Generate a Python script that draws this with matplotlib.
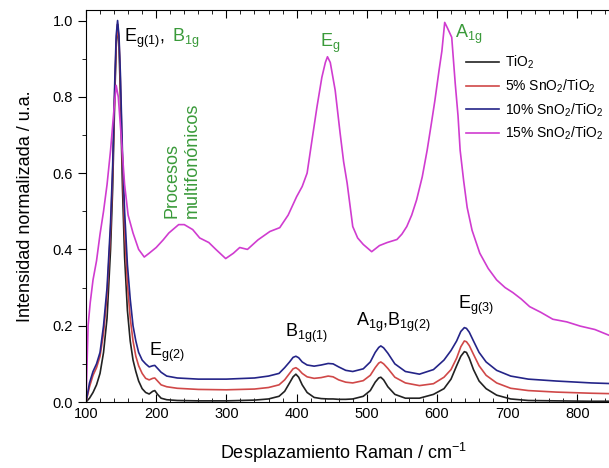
import numpy as np
import matplotlib
matplotlib.use("Agg")
import matplotlib.pyplot as plt
from matplotlib.ticker import MultipleLocator

plt.rcParams['font.family'] = ['Liberation Sans', 'DejaVu Sans']
plt.rcParams['mathtext.fontset'] = 'custom'
plt.rcParams['mathtext.rm'] = 'Liberation Sans'
plt.rcParams['mathtext.it'] = 'Liberation Sans'
plt.rcParams['mathtext.default'] = 'regular'

# Raman shift grid (cm-1) shared by the three lower spectra
shift = [100, 105, 110, 115, 120, 125, 130, 135, 138, 141,
         143, 145, 147, 149, 152, 155, 159, 163, 167, 171,
         175, 180, 185, 190, 195, 198, 202, 207, 215, 230,
         260, 300, 340, 360, 375, 383, 390, 395, 399, 403,
         408, 415, 425, 435, 445, 452, 460, 470, 480, 495,
         505, 512, 517, 520, 524, 530, 540, 555, 575, 595,
         610, 620, 628, 634, 639, 642, 646, 652, 660, 670,
         685, 705, 730, 770, 820, 870, 890]

tio2 = [0, 0.01, 0.025, 0.045, 0.075, 0.13, 0.22, 0.4, 0.56, 0.8,
        0.93, 0.99, 0.94, 0.8, 0.56, 0.38, 0.24, 0.16, 0.11, 0.08,
        0.055, 0.035, 0.025, 0.021, 0.028, 0.03, 0.02, 0.01, 0.006, 0.004,
        0.003, 0.003, 0.005, 0.008, 0.015, 0.028, 0.05, 0.066, 0.073, 0.065,
        0.045, 0.025, 0.012, 0.009, 0.008, 0.008, 0.007, 0.007, 0.008, 0.015,
        0.03, 0.052, 0.063, 0.065, 0.058, 0.04, 0.02, 0.01, 0.01, 0.02,
        0.035, 0.06, 0.095, 0.12, 0.132, 0.13, 0.115, 0.085, 0.055, 0.035,
        0.018, 0.008, 0.004, 0.003, 0.002, 0.002, 0.002]

sno2_5 = [0, 0.04, 0.07, 0.09, 0.12, 0.18, 0.28, 0.45, 0.6, 0.82,
          0.94, 0.99, 0.95, 0.84, 0.62, 0.45, 0.31, 0.22, 0.16, 0.12,
          0.095, 0.075, 0.062, 0.058, 0.062, 0.063, 0.055, 0.045, 0.04, 0.036,
          0.033, 0.032, 0.034, 0.038, 0.045, 0.058, 0.075, 0.087, 0.09, 0.085,
          0.075, 0.066, 0.062, 0.064, 0.068, 0.066, 0.058, 0.052, 0.05, 0.056,
          0.07, 0.09, 0.102, 0.105, 0.1, 0.088, 0.065, 0.05, 0.043, 0.048,
          0.065, 0.085, 0.115, 0.145, 0.16, 0.158, 0.148, 0.125, 0.095, 0.07,
          0.05, 0.036, 0.03, 0.026, 0.023, 0.021, 0.02]

sno2_10 = [0, 0.05, 0.08, 0.1, 0.13, 0.2, 0.3, 0.47, 0.62, 0.84,
           0.96, 1.0, 0.96, 0.86, 0.65, 0.5, 0.36, 0.27, 0.2, 0.16,
           0.13, 0.11, 0.1, 0.092, 0.095, 0.096, 0.088, 0.078, 0.068, 0.063,
           0.06, 0.06, 0.063, 0.068, 0.075, 0.09, 0.105, 0.117, 0.12, 0.116,
           0.105, 0.097, 0.094, 0.097, 0.101, 0.1, 0.092, 0.083, 0.08, 0.087,
           0.105, 0.13, 0.143, 0.147, 0.142, 0.128, 0.1, 0.08, 0.073, 0.085,
           0.11, 0.135, 0.16, 0.185, 0.195, 0.193, 0.183, 0.16, 0.13, 0.105,
           0.083, 0.068, 0.06, 0.055, 0.05, 0.047, 0.045]

# 15% sample has its own grid
shift_15 = [100, 103, 106, 110, 115, 120, 125, 130, 135, 140,
            143, 146, 150, 155, 160, 167, 175, 183, 190, 200,
            210, 218, 232, 240, 252, 262, 275, 285, 299, 310,
            319, 330, 345, 362, 376, 388, 400, 408, 415, 422,
            429, 436, 441, 444, 448, 455, 462, 467, 472, 480,
            487, 495, 507, 518, 529, 543, 550, 557, 564, 571,
            579, 586, 592, 597, 603, 607, 611, 615, 621, 626,
            630, 633, 638, 643, 650, 661, 673, 685, 697, 708,
            720, 732, 748, 765, 785, 804, 825, 845, 870, 890]
sno2_15 = [0, 0.2, 0.26, 0.32, 0.37, 0.44, 0.5, 0.57, 0.66, 0.77,
           0.83, 0.8, 0.7, 0.57, 0.49, 0.443, 0.40, 0.38, 0.39, 0.405,
           0.425, 0.443, 0.465, 0.465, 0.452, 0.43, 0.418, 0.40, 0.376, 0.39,
           0.405, 0.40, 0.425, 0.447, 0.457, 0.49, 0.538, 0.565, 0.60, 0.687,
           0.773, 0.851, 0.89, 0.905, 0.89, 0.817, 0.705, 0.63, 0.574, 0.46,
           0.43, 0.413, 0.394, 0.41, 0.418, 0.426, 0.44, 0.46, 0.49, 0.53,
           0.59, 0.66, 0.73, 0.79, 0.87, 0.92, 0.995, 0.98, 0.956, 0.835,
           0.75, 0.66, 0.58, 0.51, 0.45, 0.39, 0.35, 0.32, 0.30, 0.287,
           0.27, 0.25, 0.235, 0.217, 0.21, 0.199, 0.19, 0.175, 0.165, 0.16]

labels = ['TiO$_2$', '5% SnO$_2$/TiO$_2$', '10% SnO$_2$/TiO$_2$', '15% SnO$_2$/TiO$_2$']
colors = ['#222222', '#d04848', '#242488', '#d03cd0']
green = '#3a9a3a'

fig = plt.figure(figsize=(6.09, 4.68), dpi=100)
# axes runs past the right edge of the picture, as in the original crop
ax = fig.add_axes([0.1412, 0.141, 0.9106, 0.8376])

ax.plot(shift, tio2, color=colors[0], lw=1.2, label=labels[0])
ax.plot(shift, sno2_5, color=colors[1], lw=1.2, label=labels[1])
ax.plot(shift, sno2_10, color=colors[2], lw=1.2, label=labels[2])
ax.plot(shift_15, sno2_15, color=colors[3], lw=1.2, label=labels[3])

ax.set_xlim(100, 890)
ax.set_ylim(0, 1.0275)
ax.xaxis.set_major_locator(MultipleLocator(100))
ax.xaxis.set_minor_locator(MultipleLocator(20))
ax.yaxis.set_major_locator(MultipleLocator(0.2))
ax.yaxis.set_minor_locator(MultipleLocator(0.1))
ax.yaxis.set_major_formatter(matplotlib.ticker.FormatStrFormatter('%.1f'))
ax.tick_params(axis='x', which='both', direction='in', top=True, labelsize=10.5)
ax.tick_params(axis='x', which='major', length=6)
ax.tick_params(axis='x', which='minor', length=3)
ax.tick_params(axis='y', which='both', direction='out', labelsize=10.5)
ax.tick_params(axis='y', which='major', length=6)
ax.tick_params(axis='y', which='minor', length=3)

ax.set_xlabel('Desplazamiento Raman / cm$^{-1}$', fontsize=13)
ax.xaxis.set_label_coords(0.4636, -0.10)
ax.set_ylabel('Intensidad normalizada / u.a.', fontsize=13, labelpad=13)

fs = 13
ax.text(154, 0.943, r'$E_{g(1)}$,', fontsize=fs, color='black')
ax.text(223, 0.943, r'$B_{1g}$', fontsize=fs, color=green)
ax.text(433, 0.93, r'$E_{g}$', fontsize=fs, color=green)
ax.text(626, 0.955, r'$A_{1g}$', fontsize=fs, color=green)
ax.text(190, 0.12, r'$E_{g(2)}$', fontsize=fs, color='black')
ax.text(383, 0.17, r'$B_{1g(1)}$', fontsize=fs, color='black')
ax.text(484, 0.2, r'$A_{1g}$,$B_{1g(2)}$', fontsize=fs, color='black')
ax.text(630, 0.243, r'$E_{g(3)}$', fontsize=fs, color='black')
ax.text(237, 0.483, 'Procesos\nmultifonónicos', fontsize=13, color=green,
        rotation=90, ha='center', va='bottom', multialignment='left')

ax.legend(loc='upper left', bbox_to_anchor=(0.765, 0.885), bbox_transform=fig.transFigure,
          frameon=False, fontsize=10, handlelength=2.4, handletextpad=0.4,
          borderpad=0, borderaxespad=0, labelspacing=0.45)

fig.savefig('out.png', dpi=100)
